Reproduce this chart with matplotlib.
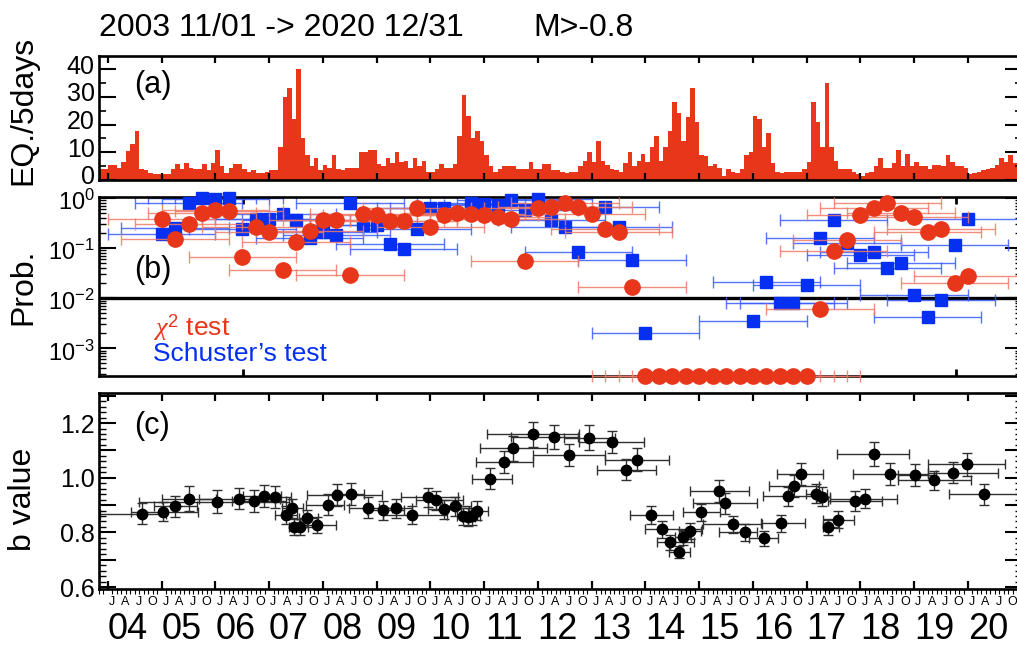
import numpy as np
import matplotlib
matplotlib.use('Agg')
import matplotlib.pyplot as plt
import matplotlib.transforms as mtransforms
from matplotlib import font_manager
from matplotlib.ticker import MultipleLocator, FixedLocator, LogLocator, FuncFormatter, NullFormatter

#--------
#fonts
plt.rcParams['font.family'] = ['Liberation Sans', 'DejaVu Sans']
plt.rcParams['mathtext.fontset'] = 'custom'
plt.rcParams['mathtext.rm'] = 'Liberation Sans'
plt.rcParams['mathtext.it'] = 'Liberation Serif:italic'

names = {f.name for f in font_manager.fontManager.ttflist}
year_font = 'Liberation Sans Narrow' if 'Liberation Sans Narrow' in names else 'Liberation Sans'

#--------
#data

#(a) number of earthquakes per 5 days, one value per month from 2003/11
eq_start = 2003 + 10/12
eq_per_5days = [
    4, 4,                                                   # 2003 Nov-Dec
    5.5, 5.5, 4.5, 6.5, 10.5, 13, 17.8, 4, 3.5, 2.5, 2, 2,  # 2004
    2, 2, 4, 5.7, 4, 6.3, 4.5, 4, 4, 5.7, 3.5, 6,           # 2005
    10.8, 5, 2.7, 4.5, 5.7, 5.7, 4, 3, 3.5, 2.7, 2.5, 3,    # 2006
    3.5, 3.5, 12, 30, 33, 22, 40, 15, 9, 5, 8, 3.5,         # 2007
    5.5, 4.5, 9, 4, 3.5, 4.5, 4.5, 4.5, 10, 10, 10.8, 10.8, # 2008
    5.7, 5, 8, 6, 10, 6.5, 7, 4.5, 8, 5, 7, 3,              # 2009
    3, 4, 5.7, 4.5, 4.5, 5.7, 16, 30.8, 23, 15, 17.8, 14,   # 2010
    9, 5, 3, 4, 5, 5, 5, 4, 4, 4, 6.5, 4,                   # 2011
    4, 5.7, 5.7, 3.5, 3.5, 3, 2.5, 3, 3, 5, 7, 10,          # 2012
    6.5, 14, 7, 5.5, 4, 3.5, 3, 6, 10, 5, 7, 9.3,           # 2013
    6.5, 11.8, 16, 7, 11.8, 17.8, 28, 24, 14, 22.7, 33, 20.8,  # 2014
    9, 8.5, 5, 5.7, 4.5, 1.5, 4, 3, 2.5, 4, 9, 10,          # 2015
    23, 22, 12, 17, 6, 3, 2.5, 3, 3, 3, 3, 4,               # 2016
    6.5, 28, 21, 12, 34.8, 12, 7, 4, 4, 4, 3, 2,            # 2017
    1.5, 2.5, 3, 5, 8, 4.5, 4.5, 6, 10.8, 5, 9.5, 5,        # 2018
    6.5, 5, 5, 4, 5.5, 5.5, 5, 9, 6.5, 5, 5, 4.5,           # 2019
    2, 2.5, 3, 3.5, 4, 4.5, 5.5, 8, 6.5, 9, 6, 6,           # 2020
]

#(b) probabilities, 2-year windows (+-1 yr) every quarter
window_half = 1.0
p_floor = 2.8e-4   #probabilities below the plot range are drawn on the floor
chi2_t = [2005.00, 2005.25, 2005.50, 2005.75, 2006.00, 2006.25, 2006.50, 2006.75,
          2007.00, 2007.25, 2007.50, 2007.75, 2008.00, 2008.25, 2008.50, 2008.75,
          2009.00, 2009.25, 2009.50, 2009.75, 2010.00, 2010.25, 2010.50, 2010.75,
          2011.00, 2011.25, 2011.50, 2011.75, 2012.00, 2012.25, 2012.50, 2012.75,
          2013.00, 2013.25, 2013.50, 2013.75, 2014.00, 2014.25, 2014.50, 2014.75,
          2015.00, 2015.25, 2015.50, 2015.75, 2016.00, 2016.25, 2016.50, 2016.75,
          2017.00, 2017.25, 2017.50, 2017.75, 2018.00, 2018.25, 2018.50, 2018.75,
          2019.00, 2019.25, 2019.50, 2019.75, 2020.00]
chi2_p = [0.39, 0.149, 0.31, 0.51, 0.575, 0.56, 0.067, 0.27,
          0.206, 0.037, 0.134, 0.22, 0.37, 0.37, 0.029, 0.49,
          0.46, 0.35, 0.35, 0.62, 0.26, 0.46, 0.51, 0.47,
          0.46, 0.42, 0.38, 0.056, 0.62, 0.67, 0.78, 0.65,
          0.48, 0.24, 0.21, 0.0169, p_floor, p_floor, p_floor, p_floor,
          p_floor, p_floor, p_floor, p_floor, p_floor, p_floor, p_floor, p_floor,
          p_floor, 0.006, 0.088, 0.145, 0.46, 0.62, 0.81, 0.51,
          0.41, 0.21, 0.24, 0.0197, 0.028]
schuster_t = [2005.00, 2005.25, 2005.50, 2005.75, 2006.00, 2006.25, 2006.50, 2006.75,
              2007.00, 2007.25, 2007.50, 2007.75, 2008.00, 2008.25, 2008.50, 2008.75,
              2009.00, 2009.25, 2009.50, 2009.75, 2010.00, 2010.25, 2010.75,
              2011.00, 2011.25, 2011.50, 2011.75, 2012.00, 2012.25, 2012.50, 2012.75,
              2013.25, 2013.50, 2013.75, 2014.00,
              2016.00, 2016.25, 2016.50, 2016.75, 2017.00, 2017.25, 2017.50, 2017.75,
              2018.00, 2018.25, 2018.50, 2018.75, 2019.00, 2019.25, 2019.50, 2019.75,
              2020.00]
schuster_p = [0.19, 0.25, 0.78, 0.99, 0.95, 0.99, 0.24, 0.39,
              0.39, 0.49, 0.37, 0.156, 0.21, 0.18, 0.78, 0.29,
              0.29, 0.12, 0.095, 0.24, 0.62, 0.62, 0.81,
              0.76, 0.72, 0.91, 0.59, 0.94, 0.37, 0.27, 0.083,
              0.65, 0.27, 0.059, 0.0020,
              0.0035, 0.021, 0.0081, 0.0081, 0.018, 0.163, 0.37, 0.125,
              0.072, 0.082, 0.040, 0.051, 0.0115, 0.0042, 0.0091, 0.118,
              0.39]

#(c) b value
b_t = [2004.63, 2005.02, 2005.25, 2005.51, 2006.02, 2006.44, 2006.71, 2006.91,
       2007.10, 2007.31, 2007.43, 2007.47, 2007.58, 2007.70, 2007.89, 2008.09,
       2008.27, 2008.52, 2008.83, 2009.11, 2009.35, 2009.66, 2009.95, 2010.11,
       2010.26, 2010.46, 2010.61, 2010.70, 2010.78, 2010.87, 2011.11, 2011.36,
       2011.54, 2011.90, 2012.29, 2012.57, 2012.94, 2013.37, 2013.64, 2013.84,
       2014.11, 2014.30, 2014.46, 2014.63, 2014.69, 2014.83, 2015.03, 2015.37,
       2015.48, 2015.62, 2015.85, 2016.21, 2016.53, 2016.66, 2016.76, 2016.90,
       2017.18, 2017.29, 2017.40, 2017.59, 2017.90, 2018.08, 2018.25, 2018.55,
       2019.01, 2019.37, 2019.73, 2019.98, 2020.29]
b_val = [0.869, 0.875, 0.896, 0.924, 0.912, 0.924, 0.915, 0.932,
         0.930, 0.864, 0.888, 0.820, 0.820, 0.851, 0.827, 0.902,
         0.936, 0.940, 0.891, 0.881, 0.888, 0.864, 0.928, 0.918,
         0.884, 0.896, 0.859, 0.857, 0.859, 0.879, 0.997, 1.058,
         1.107, 1.159, 1.149, 1.082, 1.147, 1.131, 1.030, 1.066,
         0.864, 0.811, 0.764, 0.729, 0.782, 0.805, 0.873, 0.952,
         0.906, 0.829, 0.800, 0.778, 0.833, 0.932, 0.969, 1.015,
         0.942, 0.930, 0.820, 0.847, 0.915, 0.924, 1.086, 1.015,
         1.009, 0.991, 1.018, 1.049, 0.940]
b_t_lo = [0.78, 0.6, 0.4, 0.5, 1.45, 0.75, 0.4, 0.4,
          0.25, 0.2, 0.2, 0.1, 0.12, 0.15, 0.3, 0.4,
          0.57, 0.3, 0.35, 0.3, 0.3, 0.55, 0.5, 0.37,
          0.3, 0.25, 0.12, 0.12, 0.12, 0.15, 0.33, 0.52,
          0.62, 0.84, 0.8, 0.67, 0.45, 0.6, 0.55, 0.6,
          0.4, 0.3, 0.25, 0.2, 0.15, 0.2, 0.33, 0.55,
          0.6, 0.55, 0.48, 0.28, 0.38, 0.47, 0.47, 0.45,
          0.2, 0.1, 0.1, 0.28, 0.5, 0.65, 0.69, 0.69,
          0.32, 0.67, 0.47, 0.72, 0.65]
b_t_hi = [0.45, 0.65, 0.4, 0.5, 1.35, 0.76, 0.6, 0.3,
          0.3, 0.2, 0.2, 0.12, 0.15, 0.2, 0.35, 0.3,
          0.82, 0.25, 0.45, 0.4, 0.3, 0.65, 0.57, 0.5,
          0.3, 0.3, 0.15, 0.12, 0.15, 0.2, 0.4, 0.54,
          0.63, 0.86, 0.45, 0.67, 0.5, 0.6, 0.55, 0.6,
          0.4, 0.75, 0.45, 0.2, 0.15, 0.2, 0.36, 0.56,
          0.6, 0.55, 0.22, 0.26, 0.43, 0.56, 0.47, 0.4,
          0.2, 0.15, 0.2, 0.28, 0.5, 0.6, 0.65, 0.7,
          0.4, 0.68, 0.82, 0.7, 0.65]
b_err = [0.038, 0.035, 0.038, 0.046, 0.042, 0.04, 0.04, 0.04,
         0.04, 0.032, 0.035, 0.03, 0.03, 0.032, 0.03, 0.038,
         0.04, 0.04, 0.038, 0.035, 0.035, 0.032, 0.035, 0.035,
         0.035, 0.035, 0.032, 0.032, 0.032, 0.035, 0.04, 0.04,
         0.045, 0.045, 0.045, 0.04, 0.045, 0.04, 0.04, 0.042,
         0.033, 0.03, 0.028, 0.022, 0.028, 0.03, 0.032, 0.04,
         0.038, 0.03, 0.03, 0.026, 0.03, 0.035, 0.04, 0.04,
         0.035, 0.035, 0.03, 0.03, 0.035, 0.035, 0.043, 0.04,
         0.04, 0.035, 0.038, 0.042, 0.038]

years = list(range(2004, 2021))
year_labels = ['%02d' % (y % 100) for y in years]
month_letters = ['J', 'A', 'J', 'O']
month_index = [0, 3, 6, 9]
eq_ticks = [0, 10, 20, 30, 40]
prob_ticks = [1e-3, 1e-2, 1e-1, 1e0]

#--------
#style
RED = '#E8361A'
RED_BAR = '#F07A66'
BLUE = '#0530F2'
BLUE_BAR = '#3A5CFF'
t_min, t_max = 2003 + 10/12, 2021.0

W, H = 1017, 646
fig = plt.figure(figsize=(W/100, H/100), dpi=100)

def axes_px(left, top, right, bottom):
    return fig.add_axes([left/W, 1 - bottom/H, (right - left)/W, (bottom - top)/H])

def nudge(labels, dy_px):
    #shift tick labels vertically by a few pixels
    off = mtransforms.ScaledTranslation(0, dy_px/100, fig.dpi_scale_trans)
    for lbl in labels:
        lbl.set_transform(lbl.get_transform() + off)

ax_a = axes_px(99, 56, 1021.75, 180)
ax_b = axes_px(99, 197, 1021.75, 376)
ax_c = axes_px(99, 393, 1021.75, 589)

for ax in (ax_a, ax_b, ax_c):
    ax.set_xlim(t_min, t_max)
    for s in ax.spines.values():
        s.set_linewidth(1.9)

#------
#(a) histogram
month_t = eq_start + np.arange(len(eq_per_5days))/12
ax_a.bar(month_t, eq_per_5days, width=1/12, align='edge', color=RED, linewidth=0)
ax_a.set_ylim(0, 44.7)
ax_a.yaxis.set_major_locator(FixedLocator(eq_ticks))
ax_a.yaxis.set_minor_locator(MultipleLocator(5))
ax_a.xaxis.set_major_locator(FixedLocator(years))
ax_a.tick_params(axis='y', which='major', direction='in', length=12, width=1.5,
                 left=True, right=True, labelsize=18, pad=3)
ax_a.tick_params(axis='y', which='minor', direction='in', length=5, width=1.2,
                 left=True, right=True)
ax_a.tick_params(axis='x', which='major', direction='in', length=5, width=1.6,
                 top=True, bottom=True, labelbottom=False)
nudge(ax_a.get_yticklabels(), 5)
ax_a.text(0.038, 0.77, '(a)', transform=ax_a.transAxes, fontsize=22, va='center')

#------
#(b) probabilities
ax_b.set_yscale('log')
ax_b.set_ylim(p_floor, 1.05)
ax_b.axhline(1e-2, color='k', lw=2.4, zorder=1)
ax_b.errorbar(schuster_t, schuster_p, xerr=window_half, fmt='none', ecolor=BLUE_BAR,
              elinewidth=1.0, capsize=4, capthick=1.0, alpha=0.85, zorder=2)
ax_b.plot(schuster_t, schuster_p, 's', ms=8, color=BLUE, mec=BLUE, zorder=3, clip_on=False)
ax_b.errorbar(chi2_t, chi2_p, xerr=window_half, fmt='none', ecolor=RED_BAR,
              elinewidth=1.0, capsize=4, capthick=1.0, alpha=0.85, zorder=4, clip_on=False)
ax_b.plot(chi2_t, chi2_p, 'o', ms=11, color=RED, mec=RED, zorder=5, clip_on=False)

ax_b.yaxis.set_major_locator(FixedLocator(prob_ticks))
ax_b.yaxis.set_minor_locator(LogLocator(base=10, subs=np.arange(2, 10), numticks=20))
ax_b.yaxis.set_major_formatter(FuncFormatter(
    lambda v, p: r'$\mathdefault{10^{%d}}$' % int(round(np.log10(v)))))
ax_b.yaxis.set_minor_formatter(NullFormatter())
ax_b.tick_params(axis='y', which='major', direction='in', length=12, width=1.5,
                 left=True, right=True, labelsize=17, pad=3)
ax_b.tick_params(axis='y', which='minor', direction='in', length=5, width=1.0,
                 left=True, right=True)
nudge(ax_b.get_yticklabels(), -2)
ax_b.xaxis.set_major_locator(FixedLocator([2006.51, 2019.78]))
ax_b.tick_params(axis='x', which='major', direction='in', length=5, width=2,
                 top=True, bottom=True, labelbottom=False)
ax_b.text(0.038, 0.59, '(b)', transform=ax_b.transAxes, fontsize=22, va='center')
ax_b.text(0.058, 0.268, r'$\chi^{2}$ test', transform=ax_b.transAxes, fontsize=19,
          color=RED, va='center')
ax_b.text(0.058, 0.123, 'Schuster\u2019s test', transform=ax_b.transAxes, fontsize=19,
          color=BLUE, va='center')

#------
#(c) b value
ax_c.errorbar(b_t, b_val, xerr=[b_t_lo, b_t_hi], yerr=b_err, fmt='o', ms=7.5,
              color='k', mec='k', ecolor='#303030', elinewidth=1.0, capsize=3.5,
              capthick=1.0)
ax_c.set_ylim(0.593, 1.31)
ax_c.yaxis.set_major_locator(MultipleLocator(0.1))
ax_c.yaxis.set_minor_locator(MultipleLocator(0.02))
ax_c.yaxis.set_major_formatter(FuncFormatter(
    lambda v, p: '%.1f' % v if int(round(v*10)) % 2 == 0 else ''))
ax_c.tick_params(axis='y', which='major', direction='in', length=12, width=1.5,
                 left=True, right=True, labelsize=18, pad=3)
ax_c.tick_params(axis='y', which='minor', direction='in', length=5, width=1.0,
                 left=True, right=True)
ax_c.xaxis.set_major_locator(FixedLocator(years))
ax_c.xaxis.set_minor_locator(MultipleLocator(1/12))
ax_c.tick_params(axis='x', which='major', direction='in', length=6, width=1.6,
                 top=True, bottom=True, labelbottom=False)
ax_c.tick_params(axis='x', which='minor', direction='out', length=3.5, width=0.8,
                 top=False, bottom=True)
ax_c.text(0.038, 0.83, '(c)', transform=ax_c.transAxes, fontsize=22, va='center')

#month letters and year labels under the bottom panel
xt = ax_c.get_xaxis_transform()
for y, lab in zip(years, year_labels):
    for m, letter in zip(month_index, month_letters):
        ax_c.text(y + m/12 + 0.075, -0.066, letter, transform=xt, fontsize=9,
                  ha='center', va='center', clip_on=False)
    ax_c.text(y + 0.37, -0.205, lab, transform=xt, fontsize=26, family=year_font,
              ha='center', va='center')

#------
#labels and title
fig.text(23/W, 1 - 110/H, 'EQ./5days', rotation=90, fontsize=23, ha='center', va='center')
fig.text(23/W, 1 - 287/H, 'Prob.', rotation=90, fontsize=23, ha='center', va='center')
fig.text(23/W, 1 - 499/H, 'b value', rotation=90, fontsize=23, ha='center', va='center')
fig.text(99/W, 1 - 28/H, '2003 11/01 -> 2020 12/31', fontsize=23, ha='left', va='center')
fig.text(533/W, 1 - 28/H, 'M>-0.8', fontsize=23, ha='left', va='center')

fig.savefig('out.png', dpi=100)
